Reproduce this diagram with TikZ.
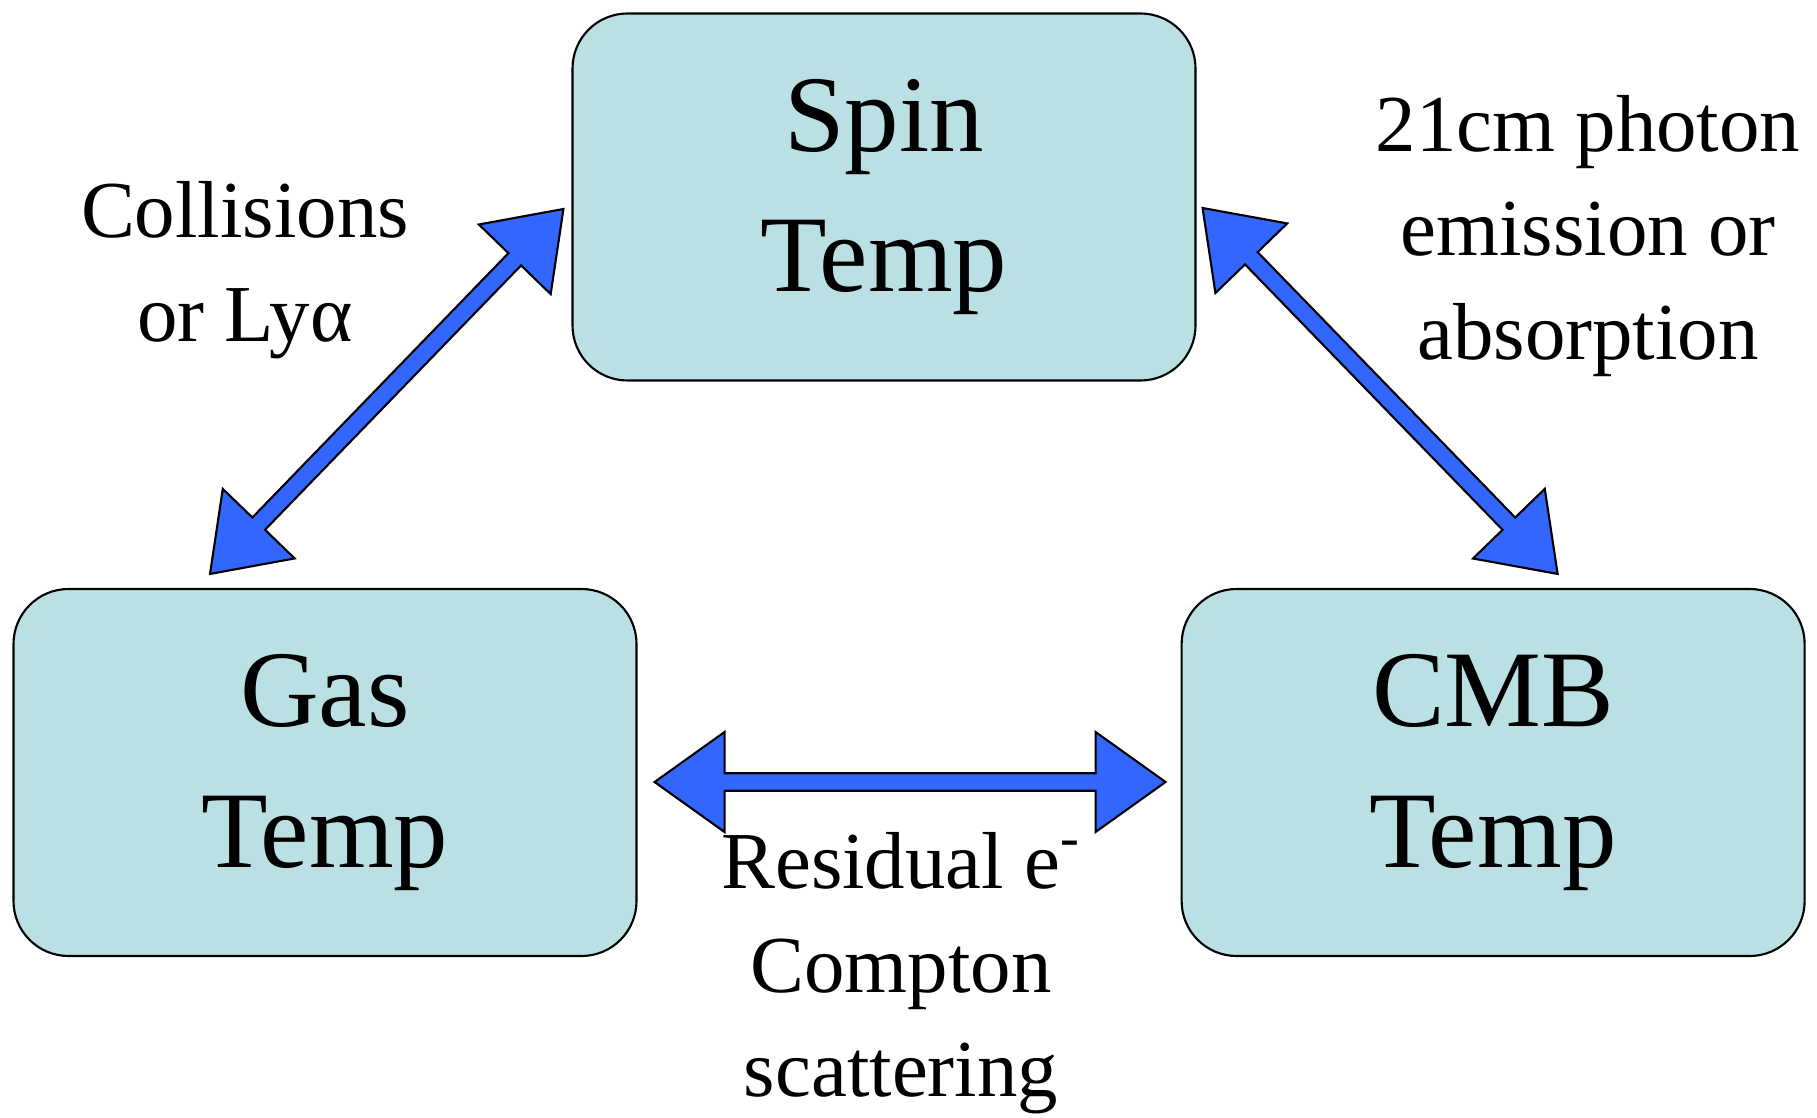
\documentclass[tikz,border=0pt]{standalone}
\usepackage{fontspec}
\setmainfont{Liberation Serif}
\usetikzlibrary{calc, positioning}
\definecolor{boxcyan}{RGB}{187,224,227}
\definecolor{arrowblue}{RGB}{51,102,255}
\tikzset{
    temp box/.style = {rectangle, rounded corners=0.55cm, draw=black, line width=0.6pt, fill=boxcyan, minimum width=6.23cm, minimum height=3.67cm, align=center, font=\fontsize{31}{40}\selectfont},
    label text/.style = {align=center, font=\fontsize{23}{29.6}\selectfont},
    block arrow/.style = {draw=black, line width=0.6pt, fill=arrowblue, line join=miter, to path={
        -- ($(\tikztostart)!0.7cm!(\tikztotarget)!0.5cm!90:(\tikztotarget)$)
        -- ($(\tikztostart)!0.7cm!(\tikztotarget)!0.088cm!90:(\tikztotarget)$)
        -- ($(\tikztotarget)!0.7cm!(\tikztostart)!0.088cm!-90:(\tikztostart)$)
        -- ($(\tikztotarget)!0.7cm!(\tikztostart)!0.5cm!-90:(\tikztostart)$)
        -- (\tikztotarget)
        -- ($(\tikztotarget)!0.7cm!(\tikztostart)!0.5cm!90:(\tikztostart)$)
        -- ($(\tikztotarget)!0.7cm!(\tikztostart)!0.088cm!90:(\tikztostart)$)
        -- ($(\tikztostart)!0.7cm!(\tikztotarget)!0.088cm!-90:(\tikztotarget)$)
        -- ($(\tikztostart)!0.7cm!(\tikztotarget)!0.5cm!-90:(\tikztotarget)$)
        -- cycle
    }}
}

\begin{document}
\begin{tikzpicture}
    \useasboundingbox (0,0) rectangle (18.17,11.17);

    \node[temp box] (spin) at (8.84,9.20) {Spin\\Temp};
    \node[temp box] (gas) at (3.25,3.445) {Gas\\Temp};
    \node[temp box, right=5.43cm of gas] (cmb) {CMB\\Temp};

    % arrow tips, a little off the boxes
    \coordinate (spin lt) at ([shift={(-0.08,-0.12)}]spin.west);
    \coordinate (spin rt) at ([shift={(0.06,-0.11)}]spin.east);
    \coordinate (gas top) at ([shift={(-1.15,0.14)}]gas.north);
    \coordinate (gas side) at ([shift={(0.17,-0.095)}]gas.east);
    \coordinate (cmb top) at ([shift={(0.645,0.14)}]cmb.north);
    \coordinate (cmb side) at ([shift={(-0.15,-0.095)}]cmb.west);

    \draw[block arrow] (spin lt) to (gas top);
    \draw[block arrow] (spin rt) to (cmb top);
    \draw[block arrow] (gas side) to (cmb side);

    \node[label text] (collide) at (2.45,8.47) {Collisions\\or Lyα};
    \node[label text] (photon) at (15.88,8.81) {21cm photon\\emission or\\absorption};
    \node[label text] (compton) at (9.01,1.44) {Residual e\textsuperscript{-}\\Compton\\scattering};
\end{tikzpicture}
\end{document}
